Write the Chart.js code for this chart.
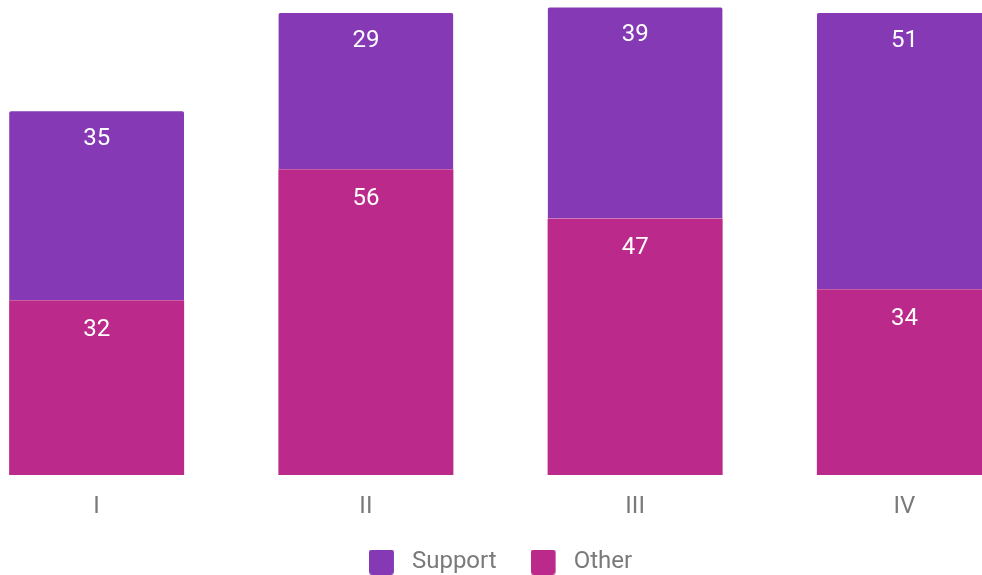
<!DOCTYPE html>
<html>
<head>
<meta charset="utf-8">
<script src="https://cdn.jsdelivr.net/npm/chart.js@4.4.1/dist/chart.umd.min.js"></script>
<style>
  html, body { margin: 0; padding: 0; background: #ffffff; overflow: hidden; width: 982px; height: 575px; }
  #wrap { position: absolute; left: -38px; top: 0; width: 1077px; height: 575px; }
</style>
</head>
<body>
<div id="wrap"><canvas id="c"></canvas></div>
<script>
const categories = ['I', 'II', 'III', 'IV'];
const supportValues = [35, 29, 39, 51];
const otherValues = [32, 56, 47, 34];
const seriesNames = ['Support', 'Other'];
const yMax = 87;

const PURPLE = '#8539B4';
const MAGENTA = '#BB2A8A';
const GRAY = '#7a7a7a';

function legendSwatch(color) {
  const c = document.createElement('canvas');
  c.width = 31; c.height = 25;
  const g = c.getContext('2d');
  g.fillStyle = color;
  g.beginPath();
  if (g.roundRect) g.roundRect(0, 0, 25, 25, 3); else g.rect(0, 0, 25, 25);
  g.fill();
  return c;
}

const valueLabels = {
  id: 'valueLabels',
  afterDatasetsDraw(chart) {
    const ctx = chart.ctx;
    ctx.save();
    ctx.font = '24px Roboto';
    ctx.fillStyle = '#ffffff';
    ctx.textAlign = 'center';
    ctx.textBaseline = 'alphabetic';
    chart.data.datasets.forEach((ds, di) => {
      const meta = chart.getDatasetMeta(di);
      meta.data.forEach((el, i) => {
        ctx.fillText(String(ds.data[i]), el.x, el.y + 36);
      });
    });
    ctx.restore();
  }
};

new Chart(document.getElementById('c'), {
  type: 'bar',
  data: {
    labels: categories,
    datasets: [
      {
        label: seriesNames[1],
        data: otherValues,
        backgroundColor: MAGENTA,
        borderWidth: 0,
        borderRadius: 0
      },
      {
        label: seriesNames[0],
        data: supportValues,
        backgroundColor: PURPLE,
        borderColor: '#ffffff',
        borderWidth: { top: 2, left: 0, right: 0, bottom: 0 },
        borderSkipped: 'bottom',
        borderRadius: { topLeft: 4, topRight: 4, bottomLeft: 0, bottomRight: 0 }
      }
    ]
  },
  options: {
    responsive: true,
    maintainAspectRatio: false,
    animation: false,
    layout: { padding: { top: 0, left: 0, right: 0, bottom: -9 } },
    datasets: { bar: { categoryPercentage: 0.65, barPercentage: 1 } },
    scales: {
      x: {
        stacked: true,
        grid: { display: false },
        border: { display: false },
        ticks: { color: GRAY, font: { family: 'Roboto', size: 24 }, padding: 10 },
        afterFit(scale) { scale.height = 41; }
      },
      y: {
        stacked: true,
        display: false,
        min: 0,
        max: yMax
      }
    },
    plugins: {
      tooltip: { enabled: false },
      legend: {
        position: 'bottom',
        labels: {
          color: GRAY,
          font: { family: 'Roboto', size: 24 },
          usePointStyle: true,
          pointStyleWidth: 31,
          padding: 34,
          generateLabels(chart) {
            const ds = chart.data.datasets;
            return [1, 0].map(i => ({
              text: ds[i].label,
              fillStyle: ds[i].backgroundColor,
              strokeStyle: ds[i].backgroundColor,
              fontColor: GRAY,
              lineWidth: 0,
              hidden: false,
              datasetIndex: i,
              pointStyle: legendSwatch(ds[i].backgroundColor)
            }));
          }
        }
      }
    }
  },
  plugins: [valueLabels]
});
</script>
</body>
</html>
